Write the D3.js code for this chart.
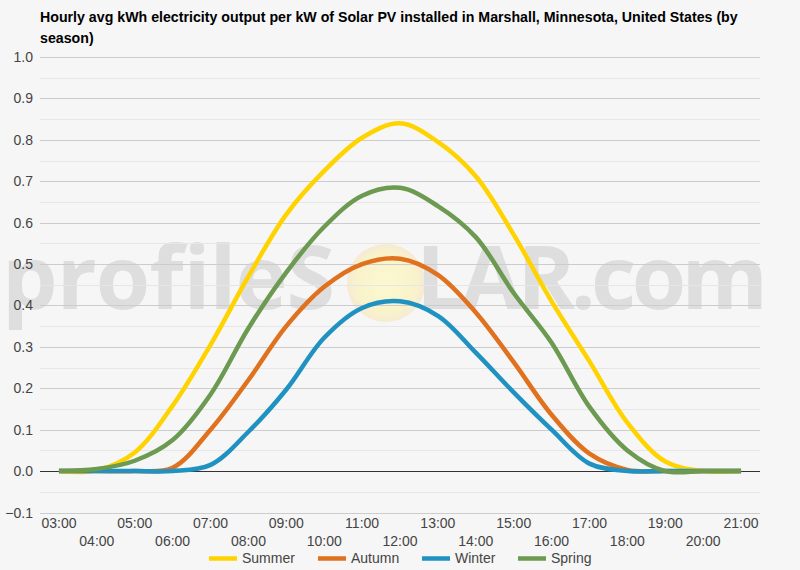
<!DOCTYPE html>
<html><head><meta charset="utf-8">
<script src="https://cdn.jsdelivr.net/npm/d3@7"></script>
<style>body{margin:0;background:#f6f6f6;}svg{display:block;font-family:"Liberation Sans",Arial,sans-serif;}</style>
</head><body><svg id="c" width="800" height="570"></svg>
<script>
const hours = ["03:00","04:00","05:00","06:00","07:00","08:00","09:00","10:00","11:00","12:00","13:00","14:00","15:00","16:00","17:00","18:00","19:00","20:00","21:00"];
const summer = [0,0.002,0.045,0.158,0.305,0.47,0.62,0.725,0.805,0.84,0.795,0.712,0.571,0.41,0.265,0.117,0.023,0,0];
const autumn = [0,0,0,0.008,0.1,0.22,0.35,0.445,0.5,0.513,0.474,0.383,0.263,0.136,0.042,0.003,0,0,0];
const winter = [0,0,0,0,0.015,0.095,0.197,0.322,0.394,0.41,0.375,0.286,0.19,0.1,0.018,0,0,0,0];
const spring = [0,0.005,0.025,0.075,0.185,0.345,0.48,0.59,0.665,0.684,0.64,0.565,0.43,0.31,0.155,0.05,0,0,0];
const seriesNames = ["Summer","Autumn","Winter","Spring"];
const seriesColors = ["#ffd300","#e0711e","#1f92c1","#6b9a50"];
const yTicks = [-0.1,0,0.1,0.2,0.3,0.4,0.5,0.6,0.7,0.8,0.9,1.0];
const title1 = "Hourly avg kWh electricity output per kW of Solar PV installed in Marshall, Minnesota, United States (by";
const title2 = "season)";

const svg = d3.select("#c");
const L = 40, R = 760, T = 57, B = 512.5;
const x = d3.scalePoint().domain(hours).range([L, R]).padding(0.5);
const y = d3.scaleLinear().domain([-0.1, 1.0]).range([B, T]);

svg.append("rect").attr("width",800).attr("height",570).attr("fill","#f6f6f6");

// watermark
const wm = svg.append("g");
const grad = svg.append("defs").append("radialGradient").attr("id","sun");
grad.append("stop").attr("offset","0%").attr("stop-color","#fbf8cf");
grad.append("stop").attr("offset","75%").attr("stop-color","#f9f3cc");
grad.append("stop").attr("offset","100%").attr("stop-color","#f6ead2");
wm.append("circle").attr("cx",386).attr("cy",283).attr("r",39).attr("fill","url(#sun)");
wm.append("text").attr("x",2).attr("y",309).attr("font-size",88).attr("font-family","'Open Sans','Liberation Sans',sans-serif").attr("font-weight","bold").attr("fill","#dedede").attr("textLength",333).text("profileS");
wm.append("text").attr("x",416).attr("y",309).attr("font-size",88).attr("font-family","'Open Sans','Liberation Sans',sans-serif").attr("font-weight","bold").attr("fill","#dedede").attr("textLength",352).text("LAR.com");

// grid
const minor = d3.range(-0.05, 1.0, 0.1);
svg.append("g").selectAll("line").data(minor).join("line")
  .attr("x1",L).attr("x2",R).attr("y1",d=>Math.round(y(d))+0.5).attr("y2",d=>Math.round(y(d))+0.5)
  .attr("stroke","#e6e6e6").attr("stroke-width",1);
svg.append("g").selectAll("line").data(yTicks).join("line")
  .attr("x1",L).attr("x2",R).attr("y1",d=>Math.round(y(d))+0.5).attr("y2",d=>Math.round(y(d))+0.5)
  .attr("stroke",d=>d===0?"#333":"#cccccc").attr("stroke-width",1);

// y labels
svg.append("g").selectAll("text").data(yTicks).join("text")
  .attr("x",33).attr("y",d=>y(d)+5).attr("text-anchor","end")
  .attr("font-size",14).attr("fill","#444").text(d=>d3.format(".1f")(d));

// x labels
svg.append("g").selectAll("text").data(hours).join("text")
  .attr("x",d=>x(d)).attr("y",(d,i)=>i%2===0?528:546).attr("text-anchor","middle")
  .attr("font-size",14).attr("fill","#444").text(d=>d);

// lines
const data = [summer, autumn, winter, spring];
const line = d3.line().x((d,i)=>x(hours[i])).y(d=>y(d)).curve(d3.curveCatmullRom.alpha(0.5));
svg.append("g").selectAll("path").data(data).join("path")
  .attr("d",line).attr("fill","none").attr("stroke",(d,i)=>seriesColors[i])
  .attr("stroke-width",4.5).attr("stroke-linejoin","round");

// title
svg.append("text").attr("x",40).attr("y",22).attr("font-size",14.2).attr("font-weight","bold").attr("fill","#000").text(title1);
svg.append("text").attr("x",40).attr("y",43).attr("font-size",14.2).attr("font-weight","bold").attr("fill","#000").text(title2);

// legend
const legX = [209, 318, 422, 518];
const lg = svg.append("g").selectAll("g").data(seriesNames).join("g")
  .attr("transform",(d,i)=>`translate(${legX[i]},0)`);
lg.append("line").attr("x1",0).attr("x2",28).attr("y1",558.5).attr("y2",558.5)
  .attr("stroke",(d,i)=>seriesColors[i]).attr("stroke-width",4.5);
lg.append("text").attr("x",33).attr("y",563).attr("font-size",14).attr("fill","#444").text(d=>d);
</script></body></html>
